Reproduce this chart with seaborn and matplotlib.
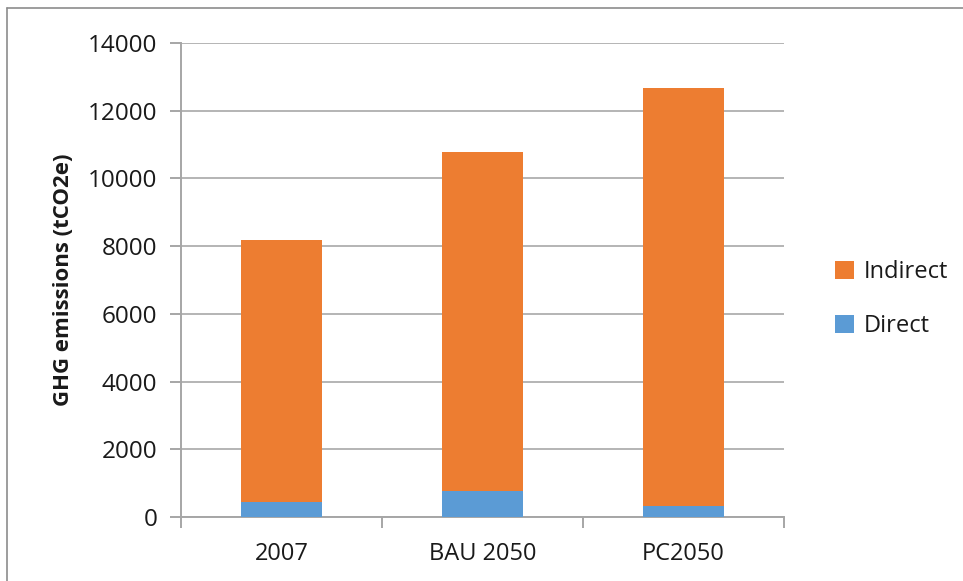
import numpy as np
import pandas as pd
import matplotlib
matplotlib.use("Agg")
import matplotlib.pyplot as plt
from matplotlib.lines import Line2D
import seaborn as sns

categories = ["2007", "BAU 2050", "PC2050"]
direct = [440, 780, 320]
indirect = [7750, 9990, 12340]
y_ticks = [0, 2000, 4000, 6000, 8000, 10000, 12000, 14000]

sns.set_theme(style="white")
plt.rcParams["font.family"] = ["Open Sans", "DejaVu Sans"]

total = np.array(direct) + np.array(indirect)
df = pd.DataFrame({"cat": categories, "direct": direct, "total": total})

fig = plt.figure(figsize=(9.63, 5.81), dpi=100)
ax = fig.add_axes([181/963, 1-517/581, (784-181)/963, (517-43)/581])

orange = "#ED7D31"
blue = "#5B9BD5"
sns.barplot(data=df, x="cat", y="total", color=orange, width=0.4,
            saturation=1, ax=ax, label="Indirect", linewidth=0, zorder=3)
sns.barplot(data=df, x="cat", y="direct", color=blue, width=0.4,
            saturation=1, ax=ax, label="Direct", linewidth=0, zorder=3)

ax.set_ylim(0, 14000)
ax.set_xlim(-0.5, 2.5)
ax.set_yticks(y_ticks)
ax.set_yticklabels([str(v) for v in y_ticks])
ax.yaxis.grid(True, color="#B4B4B4", linewidth=1.4, zorder=0)
ax.set_axisbelow(True)

for s in ["top", "right"]:
    ax.spines[s].set_visible(False)
for s in ["left", "bottom"]:
    ax.spines[s].set_color("#A6A6A6")
    ax.spines[s].set_linewidth(1.4)

ax.set_xticks([-0.5, 0.5, 1.5, 2.5], minor=True)
ax.tick_params(axis="x", which="minor", length=8, width=1.4, color="#A6A6A6", direction="out", bottom=True)
ax.tick_params(axis="x", which="major", length=0, labelsize=17, pad=18, labelcolor="#1a1a1a")
ax.tick_params(axis="y", which="major", length=8, width=1.4, color="#A6A6A6", direction="out", left=True,
               labelsize=17.5, pad=9, labelcolor="#1a1a1a")

ax.set_xlabel("")
ax.set_ylabel("GHG emissions (tCO2e)", fontsize=16, fontweight="bold", labelpad=10, color="#1a1a1a")

leg = ax.legend(loc="center left", bbox_to_anchor=(814/963, 1-299/581), bbox_transform=fig.transFigure,
                frameon=False, fontsize=17, handlelength=0.8, handleheight=0.8,
                handletextpad=0.4, labelspacing=1.25)
for t in leg.get_texts():
    t.set_color("#1a1a1a")

# figure border (top and left visible in reference)
fig.add_artist(Line2D([7/963, 7/963], [0, 1-8/581], transform=fig.transFigure, color="#8C8C8C", linewidth=1.2))
fig.add_artist(Line2D([7/963, 1], [1-8/581, 1-8/581], transform=fig.transFigure, color="#8C8C8C", linewidth=1.2))

fig.savefig("out.png", dpi=100)
